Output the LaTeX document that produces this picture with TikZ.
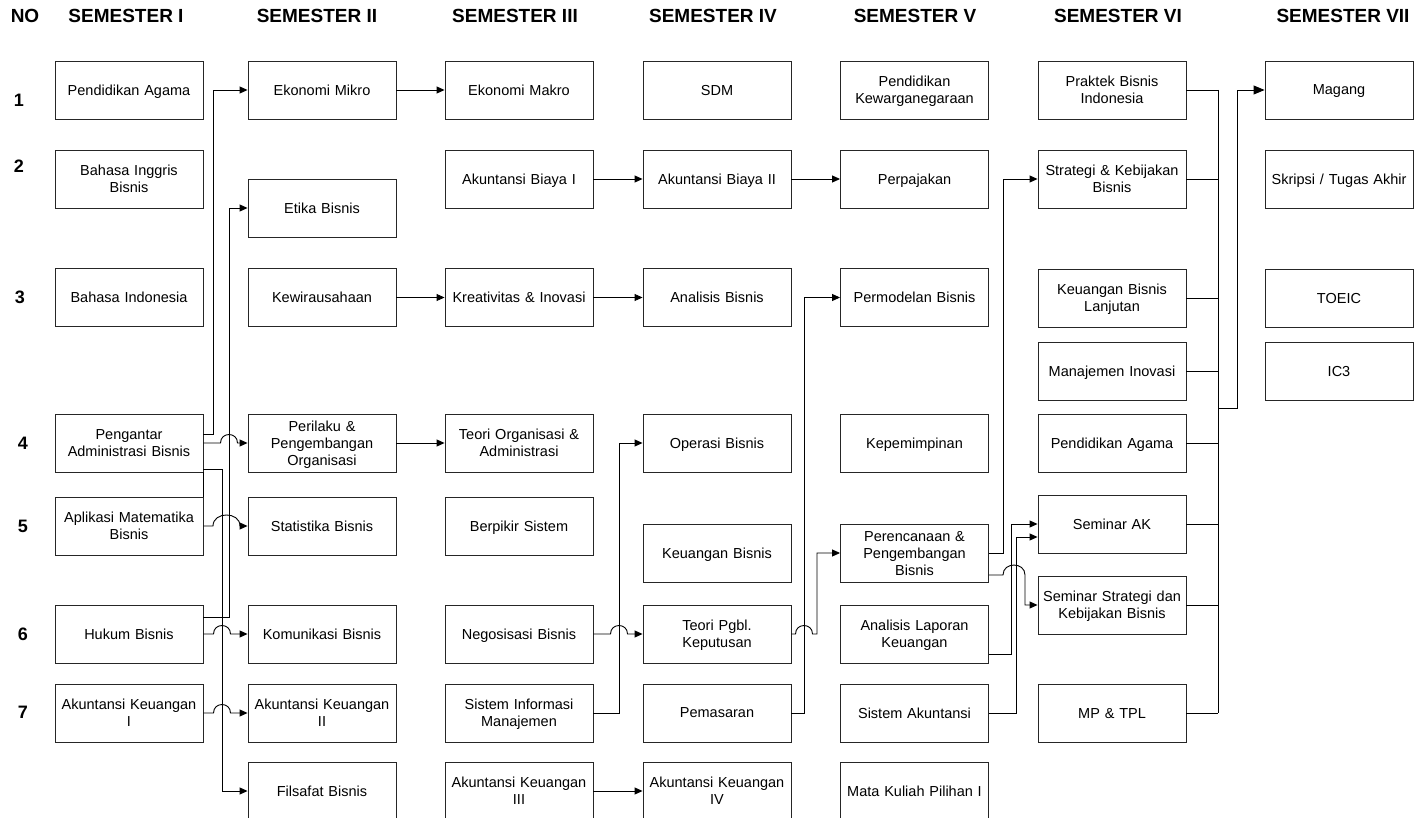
\documentclass[tikz,border=0pt]{standalone}
\usepackage{fontspec}
\setmainfont{Liberation Sans}
\usetikzlibrary{arrows.meta}
% drop the depth of the last text line so every box centres on its lines
\newcommand\lastdepthoff{\par\kern-\prevdepth}
\begin{document}
\begin{tikzpicture}[x=1pt,y=-1pt,
  course/.style={draw=black!85, line width=0.9pt, minimum width=148pt,
    minimum height=58pt, text width=146pt, inner xsep=1pt, inner ysep=0pt,
    align=center, font=\fontsize{14.5}{17}\selectfont,
    execute at end node=\lastdepthoff},
  hdr/.style={font=\fontsize{19}{22}\selectfont\bfseries, anchor=base},
  rowno/.style={font=\fontsize{18}{21}\selectfont\bfseries, anchor=base},
  link/.style={line width=0.9pt, draw=black},
  arr/.style={link, -{Triangle[length=8pt,width=7pt]}},
  bigarr/.style={link, -{Triangle[length=11pt,width=9pt]}},
]
\useasboundingbox (0,0) rectangle (1423,818);

% column headings
\node[hdr] (hno) at (25,23) {NO};
\node[hdr] (h1) at (126,23) {SEMESTER I};
\node[hdr] (h2) at (317,23) {SEMESTER II};
\node[hdr] (h3) at (515,23) {SEMESTER III};
\node[hdr] (h4) at (713,23) {SEMESTER IV};
\node[hdr] (h5) at (915,23) {SEMESTER V};
\node[hdr] (h6) at (1118,23) {SEMESTER VI};
\node[hdr] (h7) at (1343,23) {SEMESTER VII};

% row numbers
\node[rowno] (r1) at (19,107) {1};
\node[rowno] (r2) at (19,173) {2};
\node[rowno] (r3) at (20,303) {3};
\node[rowno] (r4) at (23,449) {4};
\node[rowno] (r5) at (23,532) {5};
\node[rowno] (r6) at (23,640) {6};
\node[rowno] (r7) at (23,718) {7};

% semester I
\node[course] (s1a) at (129,90) {Pendidikan Agama};
\node[course] (s1b) at (129,179) {Bahasa Inggris\\Bisnis};
\node[course] (s1c) at (129,297.5) {Bahasa Indonesia};
\node[course] (pab) at (129,443) {Pengantar\\Administrasi Bisnis};
\node[course] (amb) at (129,526) {Aplikasi Matematika\\Bisnis};
\node[course] (hkb) at (129,634) {Hukum Bisnis};
\node[course] (ak1) at (129,713) {Akuntansi Keuangan\\I};

% semester II
\node[course] (emi) at (322,90) {Ekonomi Mikro};
\node[course] (etb) at (322,208) {Etika Bisnis};
\node[course] (kwu) at (322,297.5) {Kewirausahaan};
\node[course] (ppo) at (322,443) {Perilaku \&\\Pengembangan\\Organisasi};
\node[course] (stb) at (322,526) {Statistika Bisnis};
\node[course] (kmb) at (322,634) {Komunikasi Bisnis};
\node[course] (ak2) at (322,713) {Akuntansi Keuangan\\II};
\node[course] (flb) at (322,791) {Filsafat Bisnis};

% semester III
\node[course] (ema) at (519,90) {Ekonomi Makro};
\node[course] (ab1) at (519,179) {Akuntansi Biaya I};
\node[course] (kri) at (519,297.5) {Kreativitas \& Inovasi};
\node[course] (toa) at (519,443) {Teori Organisasi \&\\Administrasi};
\node[course] (bps) at (519,526) {Berpikir Sistem};
\node[course] (ngb) at (519,634) {Negosisasi Bisnis};
\node[course] (sim) at (519,713) {Sistem Informasi\\Manajemen};
\node[course] (ak3) at (519,791) {Akuntansi Keuangan\\III};

% semester IV
\node[course] (sdm) at (717,90) {SDM};
\node[course] (ab2) at (717,179) {Akuntansi Biaya II};
\node[course] (anb) at (717,297.5) {Analisis Bisnis};
\node[course] (opb) at (717,443) {Operasi Bisnis};
\node[course] (kub) at (717,553) {Keuangan Bisnis};
\node[course] (tpk) at (717,634) {Teori Pgbl.\\Keputusan};
\node[course] (pms) at (717,713) {Pemasaran};
\node[course] (ak4) at (717,791) {Akuntansi Keuangan\\IV};

% semester V
\node[course] (pkn) at (914.5,90) {Pendidikan\\Kewarganegaraan};
\node[course] (ppj) at (914.5,179) {Perpajakan};
\node[course] (pmb) at (914.5,297.5) {Permodelan Bisnis};
\node[course] (kpm) at (914.5,443) {Kepemimpinan};
\node[course] (ppb) at (914.5,553) {Perencanaan \&\\Pengembangan\\Bisnis};
\node[course] (alk) at (914.5,634) {Analisis Laporan\\Keuangan};
\node[course] (sak) at (914.5,713) {Sistem Akuntansi};
\node[course] (mkp) at (914.5,791) {Mata Kuliah Pilihan I};

% semester VI
\node[course] (pbi) at (1112,90) {Praktek Bisnis\\Indonesia};
\node[course] (skb) at (1112,179) {Strategi \& Kebijakan\\Bisnis};
\node[course] (kbl) at (1112,298) {Keuangan Bisnis\\Lanjutan};
\node[course] (mji) at (1112,371.5) {Manajemen Inovasi};
\node[course] (pag) at (1112,443) {Pendidikan Agama};
\node[course] (smk) at (1112,524) {Seminar AK};
\node[course] (ssk) at (1112,605) {Seminar Strategi dan\\Kebijakan Bisnis};
\node[course] (mpt) at (1112,713) {MP \& TPL};

% semester VII
\node[course] (mgg) at (1339,90) {Magang};
\node[course] (skr) at (1339,179) {Skripsi / Tugas Akhir};
\node[course] (toe) at (1339,298) {TOEIC};
\node[course] (ic3) at (1339,371.5) {IC3};

% semester I -> II
\draw[arr] ([yshift=9pt]pab.east) -- ++(10,0) |- (emi.west);
\draw[arr] ([yshift=17pt]hkb.east) -- ++(26,0) |- (etb.west);
\draw[arr] (pab.east) -- (220.5,443)
  .. controls (220.5,431.7) and (237.5,431.7) .. (237.5,443) -- (ppo.west);
\draw[arr] ([yshift=-26pt]pab.east) -- ++(19,0) |- (flb.west);
\draw[link] (pab.south east) -- (amb.north east);
\draw[arr] (amb.east) -- (213,526)
  .. controls (213,511.3) and (240,511.3) .. (240,526) -- (stb.west);
\draw[arr] (hkb.east) -- (213.5,634)
  .. controls (213.5,622.7) and (230.5,622.7) .. (230.5,634) -- (kmb.west);
\draw[arr] (ak1.east) -- (213.5,713)
  .. controls (213.5,701.7) and (230.5,701.7) .. (230.5,713) -- (ak2.west);

% semester II -> III
\draw[arr] (emi.east) -- (ema.west);
\draw[arr] (kwu.east) -- (kri.west);
\draw[arr] (ppo.east) -- (toa.west);

% semester III -> IV
\draw[arr] (ab1.east) -- (ab2.west);
\draw[arr] (kri.east) -- (anb.west);
\draw[arr] (ak3.east) -- (ak4.west);
\draw[arr] (sim.east) -- ++(26,0) |- (opb.west);
\draw[arr] (ngb.east) -- (610.5,634)
  .. controls (610.5,622.7) and (627.5,622.7) .. (627.5,634) -- (tpk.west);

% semester IV -> V
\draw[arr] (ab2.east) -- (ppj.west);
\draw[arr] (pms.east) -- ++(13,0) |- (pmb.west);
\draw[arr] (tpk.east) -- (795.5,634)
  .. controls (795.5,622.7) and (812.5,622.7) .. (812.5,634)
  -- (817,634) |- (ppb.west);

% semester V -> VI
\draw[arr] (ppb.east) -- ++(14,0) |- (skb.west);
\draw[arr] ([yshift=-22pt]ppb.east) -- (1003,575)
  .. controls (1003,561.7) and (1025,561.7) .. (1025,575) |- (ssk.west);
\draw[arr] ([yshift=-20pt]alk.east) -- ++(22,0) |- (smk.west);
\draw[arr] (sak.east) -- ++(27,0) |- ([yshift=-13pt]smk.west);

% semester VI -> VII
\foreach \n in {pbi,skb,kbl,mji,pag,smk,ssk,mpt}
  \draw[link] (\n.east) -- ++(32,0);
\draw[link] ([xshift=32pt]pbi.east) -- ([xshift=32pt]mpt.east);
\coordinate (bus) at (1218,408);
\draw[bigarr] (bus) -- ++(19,0) |- (mgg.west);
\end{tikzpicture}
\end{document}
